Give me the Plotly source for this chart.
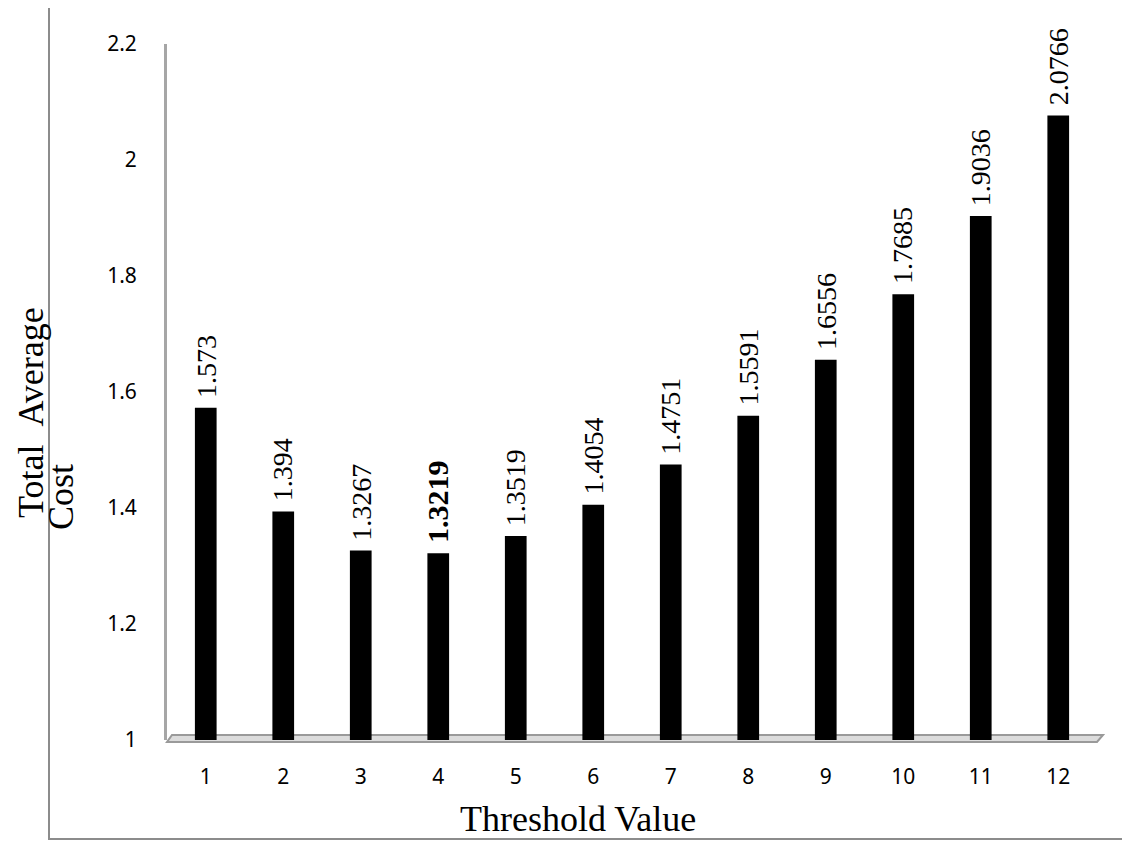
import plotly.graph_objects as go

categories = ["1", "2", "3", "4", "5", "6", "7", "8", "9", "10", "11", "12"]
values = [1.573, 1.394, 1.3267, 1.3219, 1.3519, 1.4054, 1.4751, 1.5591, 1.6556, 1.7685, 1.9036, 2.0766]
labels = ["1.573", "1.394", "1.3267", "1.3219", "1.3519", "1.4054", "1.4751", "1.5591", "1.6556", "1.7685", "1.9036", "2.0766"]
highlight = "4"
y_ticks = [1, 1.2, 1.4, 1.6, 1.8, 2, 2.2]
y_tick_text = ["1", "1.2", "1.4", "1.6", "1.8", "2", "2.2"]

SERIF = "Liberation Serif, Times New Roman, serif"
SANS = "Noto Sans, Liberation Sans, sans-serif"

OFF = 8  # default page body margin
W, H = 1130 - OFF, 841 - OFF
L, T = 167 - OFF, 44 - OFF
pw, ph = 930, 696
R, B = W - L - pw, H - T - ph

def px_x(p):
    return (p - OFF - L) / pw

def px_y(p):
    return (OFF + T + ph - p) / ph

fig = go.Figure()
fig.add_trace(go.Bar(
    x=categories, y=[v - 1 for v in values], base=1,
    marker=dict(color="black", line=dict(width=0)),
    width=0.28, hoverinfo="skip",
))

annotations = []
for i, (c, v, t) in enumerate(zip(categories, values, labels)):
    bold = (c == highlight)
    annotations.append(dict(
        x=i, y=v, xref="x", yref="y",
        text=f"<b>{t}</b>" if bold else t,
        textangle=-90, showarrow=False,
        xanchor="center", yanchor="bottom", yshift=8,
        font=dict(family=SERIF, size=30 if bold else 28, color="black"),
    ))

annotations.append(dict(
    x=px_x(31), y=px_y(413), xref="paper", yref="paper",
    text="Total\u00a0\u00a0Average", textangle=-90, showarrow=False,
    xanchor="center", yanchor="middle", borderpad=0,
    font=dict(family=SERIF, size=36, color="black"),
))
annotations.append(dict(
    x=px_x(61), y=px_y(497), xref="paper", yref="paper",
    text="Cost", textangle=-90, showarrow=False,
    xanchor="center", yanchor="middle", borderpad=0,
    font=dict(family=SERIF, size=36, color="black"),
))
annotations.append(dict(
    x=px_x(578), y=px_y(819), xref="paper", yref="paper",
    text="Threshold Value", showarrow=False,
    xanchor="center", yanchor="middle", borderpad=0,
    font=dict(family=SERIF, size=36, color="black"),
))

shapes = [
    dict(type="rect", xref="paper", yref="paper",
         x0=px_x(49), x1=px_x(1145), y0=px_y(839), y1=px_y(7),
         line=dict(color="#8c8c8c", width=2), fillcolor="rgba(0,0,0,0)", layer="below"),
    dict(type="path", xref="paper", yref="paper",
         path=(f"M {px_x(167)} {px_y(742)} L {px_x(1097)} {px_y(742)} "
               f"L {px_x(1103)} {px_y(735)} L {px_x(172)} {px_y(735)} Z"),
         line=dict(color="#9a9a9a", width=2), fillcolor="#dcdcdc", layer="below"),
]

fig.update_layout(
    width=W, height=H,
    margin=dict(l=L, r=R, t=T, b=B),
    paper_bgcolor="white", plot_bgcolor="white",
    showlegend=False,
    annotations=annotations, shapes=shapes,
    xaxis=dict(
        type="category", categoryorder="array", categoryarray=categories,
        range=[-0.5, 11.5],
        showgrid=False, zeroline=False, showline=False, ticks="",
        ticklabelstandoff=22,
        tickfont=dict(family=SANS, size=21, color="black"),
    ),
    yaxis=dict(
        range=[1, 2.2], tickvals=y_ticks, ticktext=y_tick_text,
        showgrid=False, zeroline=False, showline=True,
        linecolor="#a6a6a6", linewidth=3, ticks="",
        ticklabelstandoff=23,
        tickfont=dict(family=SANS, size=21, color="black"),
    ),
)

fig.write_html("out.html")
